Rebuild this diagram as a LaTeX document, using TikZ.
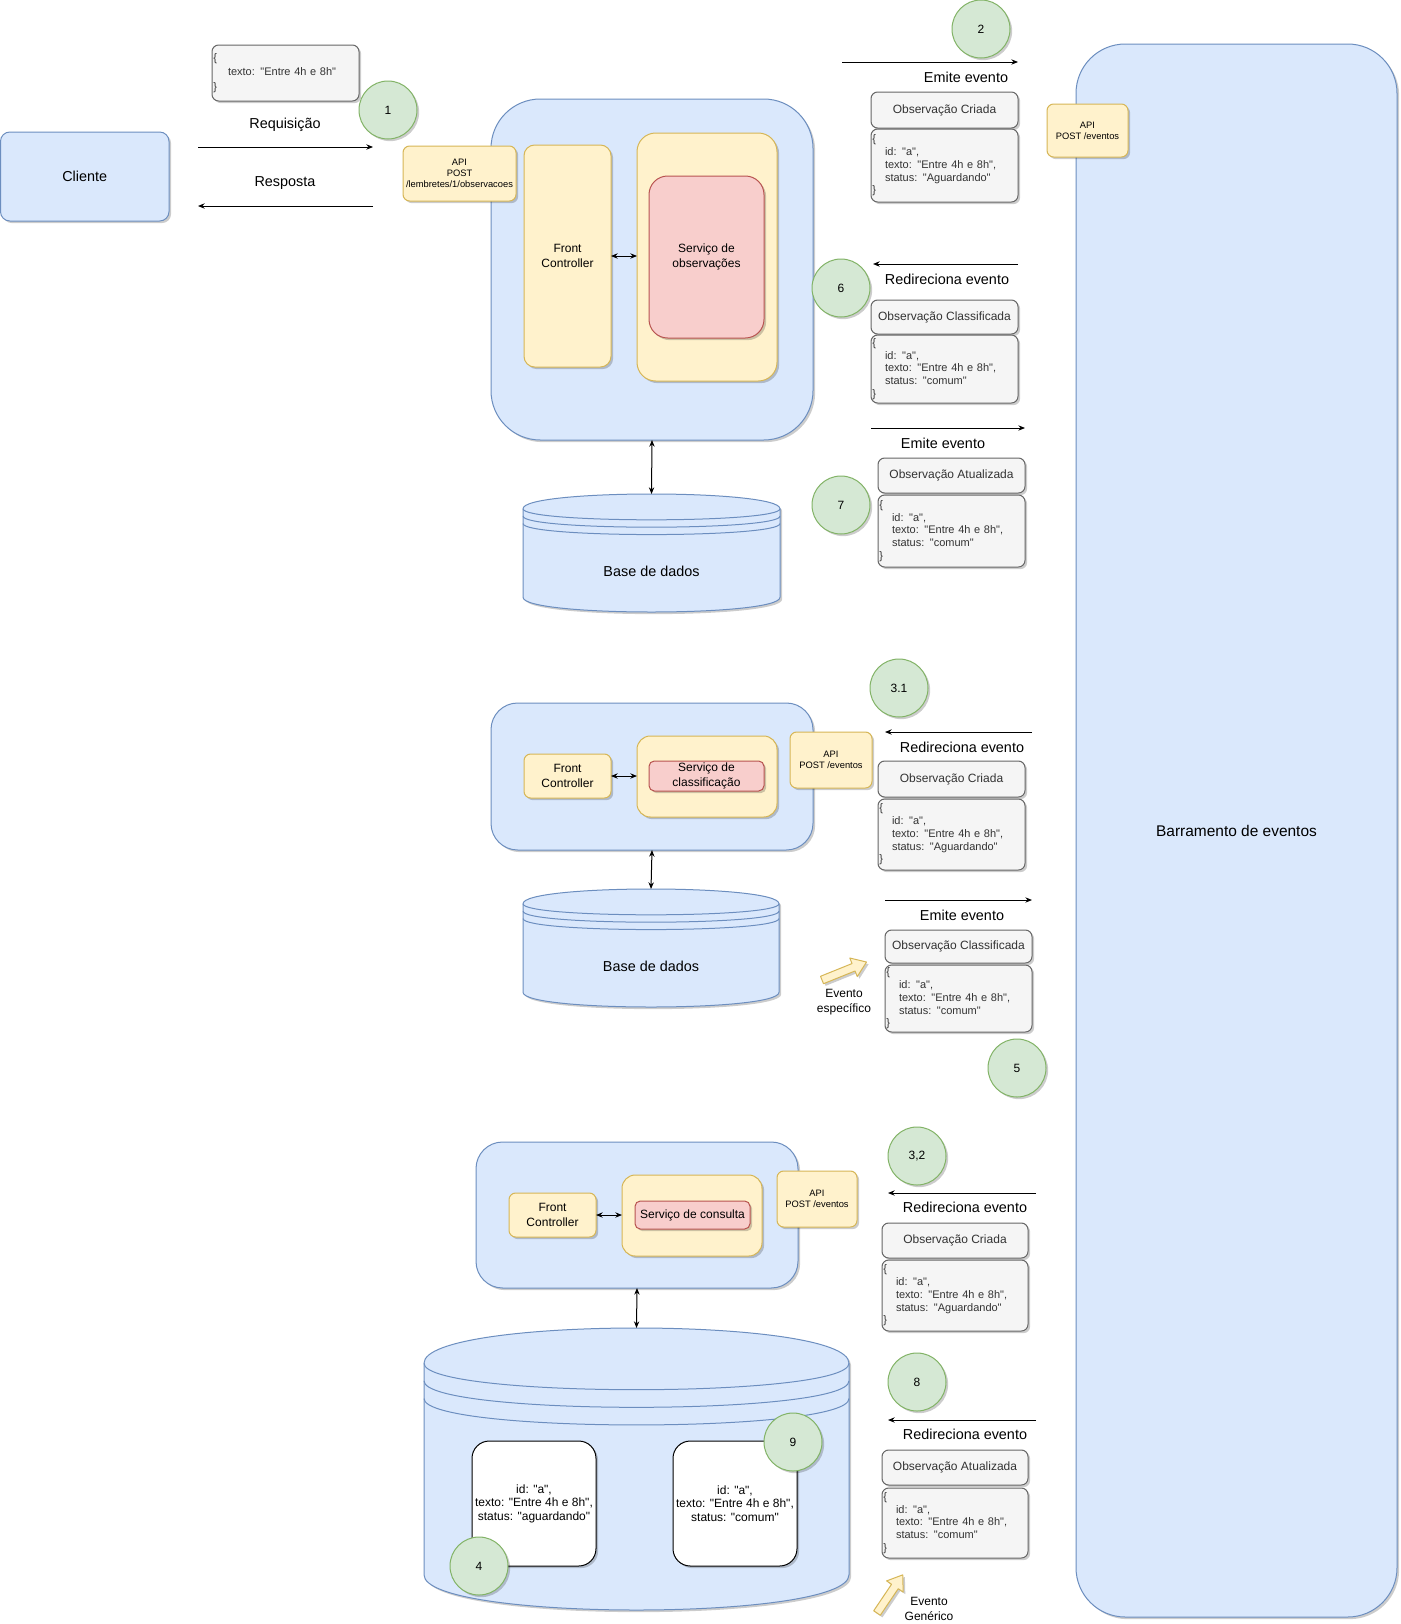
\documentclass[tikz,border=0pt]{standalone}
\usepackage{fontspec}
\setmainfont{Liberation Sans}[Ligatures=TeXOff]
\usetikzlibrary{arrows.meta,shadows}
\definecolor{bfill}{HTML}{DAE8FC}\definecolor{bdraw}{HTML}{6C8EBF}
\definecolor{yfill}{HTML}{FFF2CC}\definecolor{ydraw}{HTML}{D6B656}
\definecolor{rfill}{HTML}{F8CECC}\definecolor{rdraw}{HTML}{B85450}
\definecolor{gfill}{HTML}{F5F5F5}\definecolor{gdraw}{HTML}{666666}
\definecolor{cfill}{HTML}{D5E8D4}\definecolor{cdraw}{HTML}{82B366}
\definecolor{tgray}{HTML}{333333}
\tikzset{
  every node/.style={inner sep=0pt, outer sep=0pt},
  shad/.style={drop shadow={shadow xshift=1.6pt, shadow yshift=-1.6pt, opacity=0.2, fill=black}},
  bluebox/.style={draw=bdraw, fill=bfill, shad},
  yellowbox/.style={draw=ydraw, fill=yfill, shad},
  redbox/.style={draw=rdraw, fill=rfill, shad},
  graybox/.style={draw=gdraw, fill=gfill, text=tgray, shad, rounded corners=5pt},
  whitebox/.style={draw=black, fill=white, shad, rounded corners=13pt},
  fbig/.style={font=\fontsize{10.8pt}{13pt}\selectfont},
  ftitle/.style={font=\fontsize{11.6pt}{14pt}\selectfont},
  fmid/.style={font=\fontsize{9pt}{10.8pt}\selectfont},
  fjson/.style={font=\fontsize{8.25pt}{9.6pt}\selectfont},
  fapi/.style={font=\fontsize{7pt}{8.2pt}\selectfont},
  circ/.style={circle, draw=cdraw, fill=cfill, minimum size=43.5pt, shad, fmid},
  arr/.style={-{Stealth[length=5pt,width=4pt]}},
  darr/.style={{Stealth[length=5pt,width=4pt]}-{Stealth[length=5pt,width=4pt]}},
  yarrow/.style={draw=ydraw, fill=yfill, shad, line join=round},
}
\newcommand\mybox[7]{%
  \node[#2, minimum width={(#5-#3)*0.75pt}, minimum height={(#6-#4)*0.75pt}] (#1) at ({(#3+#5)/2},{(#4+#6)/2}) {#7};}
\newcommand\jbox[7]{%
  \pgfmathsetmacro\jw{(#5-#3)*0.75-2}%
  \node[graybox, fjson, align=left, #2, inner xsep=1pt, text width=\jw pt, minimum width={(#5-#3)*0.75pt}, minimum height={(#6-#4)*0.75pt}] (#1) at ({(#3+#5)/2},{(#4+#6)/2}) {#7};}
\newcommand\jsontext[1]{\{\\\hspace*{9.5pt}id: "a",\\\hspace*{9.5pt}texto: "Entre 4h e 8h",\\\hspace*{9.5pt}status: "#1"\\\}}
\newcommand\datastore[6]{%
  \pgfmathsetmacro\dsdy{(#5-#3)/8}%
  \pgfmathsetmacro\dsa{#3+\dsdy}%
  \pgfmathsetmacro\dsb{#3-\dsdy/3}%
  \pgfmathsetmacro\dsc{#5-\dsdy}%
  \pgfmathsetmacro\dsd{#5+\dsdy/3}%
  \path[bluebox] (#2,\dsa) .. controls (#2,\dsb) and (#4,\dsb) .. (#4,\dsa) -- (#4,\dsc) .. controls (#4,\dsd) and (#2,\dsd) .. (#2,\dsc) -- cycle;
  \foreach \k in {0,1,2}{%
    \pgfmathsetmacro\ya{#3+\dsdy+\k*\dsdy/2}%
    \pgfmathsetmacro\yb{\ya+\dsdy}%
    \draw[bdraw] (#2,\ya) .. controls (#2,\yb) and (#4,\yb) .. (#4,\ya);}
  \coordinate (#1-top) at ({(#2+#4)/2},#3);
  \node[fbig] (#1) at ({(#2+#4)/2},{(#3+#5)/2+1.25*\dsdy}) {#6};}
\newcommand\blockarrow[4]{%
  \begin{scope}[shift={(#1,#2)}, rotate=#3]
    \path[yarrow] (0,-4) -- ({#4-14},-4) -- ({#4-14},-10) -- (#4,0) -- ({#4-14},10) -- ({#4-14},4) -- (0,4) -- cycle;
  \end{scope}}
\begin{document}
\begin{tikzpicture}[x=0.75pt,y=-0.75pt,line width=0.75pt]
\useasboundingbox (0,0) rectangle (1400,1624);
\fill[white] (0,0) rectangle (1400,1624);

% ---------- event bus ----------
\mybox{bus}{bluebox, rounded corners=37pt, ftitle}{1076}{44}{1397}{1617}{Barramento de eventos}
\mybox{apibus}{yellowbox, rounded corners=5pt, fapi, align=center}{1047}{104}{1128}{157}{API\\POST /eventos}

% ---------- client ----------
\mybox{cliente}{bluebox, rounded corners=7pt, fbig}{0.5}{132}{169}{221}{Cliente}
\jbox{textobox}{font=\fontsize{8.25pt}{10.8pt}\selectfont}{212}{45}{359}{101}{\{\\\hspace*{11pt}texto: "Entre 4h e 8h"\\\}}
\node[circ] (c1) at (388,110) {1};
\node[fbig] (lreq) at (285,125) {Requisição};
\node[fbig] (lres) at (285,183) {Resposta};
\coordinate (reqA) at (198,147); \coordinate (reqB) at (373,147);
\coordinate (resA) at (373,206); \coordinate (resB) at (198,206);
\draw[arr] (reqA) -- (reqB);
\draw[arr] (resA) -- (resB);

% ---------- service 1: observacoes ----------
\mybox{blue1}{bluebox, rounded corners=37pt}{491}{99}{813}{440}{}
\mybox{fc1}{yellowbox, rounded corners=8pt, fmid, align=center}{524}{145}{611}{367}{Front\\Controller}
\mybox{svc1}{yellowbox, rounded corners=14pt}{637}{133}{777}{381}{}
\mybox{red1}{redbox, rounded corners=14pt, fmid, align=center}{649}{176}{764}{338}{Serviço de\\observações}
\mybox{api1}{yellowbox, rounded corners=5pt, fapi, align=center}{403}{146}{516}{201}{API\\POST\\/lembretes/1/observacoes}
\draw[darr] (fc1.east) -- (fc1.east -| svc1.west);
\datastore{db1}{523}{494}{780}{612}{Base de dados}
\draw[darr] (blue1.south) -- (db1-top);

\node[circ] (c2) at (981,29) {2};
\coordinate (e2A) at (842,62); \coordinate (e2B) at (1018,62);
\draw[arr] (e2A) -- (e2B);
\node[fbig] (le2) at (966,77) {Emite evento};
\mybox{oc1}{graybox, fmid}{871}{92}{1018}{128}{Observação Criada}
\jbox{j1}{}{871}{129}{1018}{202}{\jsontext{Aguardando}}

\node[circ] (c6) at (841,288) {6};
\coordinate (r6A) at (1018,264); \coordinate (r6B) at (873,264);
\draw[arr] (r6A) -- (r6B);
\node[fbig] (lr6) at (947,279) {Redireciona evento};
\mybox{ocl1}{graybox, fmid}{871}{300}{1018}{334}{Observação Classificada}
\jbox{j2}{}{871}{335}{1018}{403}{\jsontext{comum}}

\coordinate (e7A) at (871,428); \coordinate (e7B) at (1025,428);
\draw[arr] (e7A) -- (e7B);
\node[fbig] (le7) at (943,443) {Emite evento};
\mybox{oa1}{graybox, fmid}{878}{458}{1025}{493}{Observação Atualizada}
\jbox{j3}{}{878}{495}{1025}{567}{\jsontext{comum}}
\node[circ] (c7) at (841,505) {7};

% ---------- service 2: classificacao ----------
\node[circ] (c31) at (899,688) {3.1};
\mybox{blue2}{bluebox, rounded corners=20pt}{491}{703}{813}{850}{}
\mybox{fc2}{yellowbox, rounded corners=5pt, fmid, align=center}{524}{754}{611}{798}{Front\\Controller}
\mybox{svc2}{yellowbox, rounded corners=10pt}{637}{736}{777}{817}{}
\mybox{red2}{redbox, rounded corners=4pt, fmid, align=center}{649}{761}{764}{791}{Serviço de\\classificação}
\mybox{api2}{yellowbox, rounded corners=5pt, fapi, align=center}{790}{732}{872}{788}{API\\POST /eventos}
\draw[darr] (fc2.east) -- (fc2.east -| svc2.west);
\datastore{db2}{523}{889}{779}{1007}{Base de dados}
\draw[darr] (blue2.south) -- (db2-top);

\coordinate (r31A) at (1032,732); \coordinate (r31B) at (885,732);
\draw[arr] (r31A) -- (r31B);
\node[fbig] (lr31) at (962,747) {Redireciona evento};
\mybox{oc2}{graybox, fmid}{878}{761}{1025}{797}{Observação Criada}
\jbox{j4}{}{878}{799}{1025}{870}{\jsontext{Aguardando}}

\coordinate (e5A) at (885,900); \coordinate (e5B) at (1032,900);
\draw[arr] (e5A) -- (e5B);
\node[fbig] (le5) at (962,915) {Emite evento};
\mybox{ocl2}{graybox, fmid}{885}{930}{1032}{963}{Observação Classificada}
\jbox{j5}{}{885}{965}{1032}{1032}{\jsontext{comum}}
\blockarrow{822}{980}{22}{48}
\node[fmid, align=center] (lesp) at (844,1002) {Evento\\específico};
\node[circ] (c5) at (1017,1068) {5};

% ---------- service 3: consulta ----------
\node[circ] (c32) at (917,1156) {3,2};
\mybox{blue3}{bluebox, rounded corners=20pt}{476}{1142}{798}{1288}{}
\mybox{fc3}{yellowbox, rounded corners=5pt, fmid, align=center}{509}{1193}{596}{1237}{Front\\Controller}
\mybox{svc3}{yellowbox, rounded corners=10pt}{622}{1175}{762}{1256}{}
\mybox{red3}{redbox, rounded corners=4pt, fmid}{635}{1201}{750}{1229}{Serviço de consulta}
\mybox{api3}{yellowbox, rounded corners=5pt, fapi, align=center}{777}{1171}{857}{1227}{API\\POST /eventos}
\draw[darr] (fc3.east) -- (fc3.east -| svc3.west);
\datastore{db3}{424}{1328}{849}{1610}{}
\draw[darr] (blue3.south) -- (db3-top);
\mybox{rec1}{whitebox, fmid, align=center, font=\fontsize{9pt}{10.2pt}\selectfont}{472}{1441}{596}{1566}{id: "a",\\texto: "Entre 4h e 8h",\\status: "aguardando"}
\mybox{rec2}{whitebox, fmid, align=center, font=\fontsize{9pt}{10.2pt}\selectfont}{673}{1441}{797}{1566}{id: "a",\\texto: "Entre 4h e 8h",\\status: "comum"}
\node[circ] (c9) at (793,1442) {9};
\node[circ] (c4) at (479,1566) {4};

\coordinate (r32A) at (1036,1193); \coordinate (r32B) at (888,1193);
\draw[arr] (r32A) -- (r32B);
\node[fbig] (lr32) at (965,1207) {Redireciona evento};
\mybox{oc3}{graybox, fmid}{882}{1223}{1028}{1258}{Observação Criada}
\jbox{j6}{}{882}{1260}{1028}{1331}{\jsontext{Aguardando}}

\node[circ] (c8) at (917,1382) {8};
\coordinate (r8A) at (1036,1420); \coordinate (r8B) at (888,1420);
\draw[arr] (r8A) -- (r8B);
\node[fbig] (lr8) at (965,1434) {Redireciona evento};
\mybox{oa3}{graybox, fmid}{882}{1450}{1028}{1485}{Observação Atualizada}
\jbox{j7}{}{882}{1488}{1028}{1558}{\jsontext{comum}}
\blockarrow{877}{1613}{56}{46}
\node[fmid, align=center] (lgen) at (929,1609) {Evento\\Genérico};
\end{tikzpicture}
\end{document}
